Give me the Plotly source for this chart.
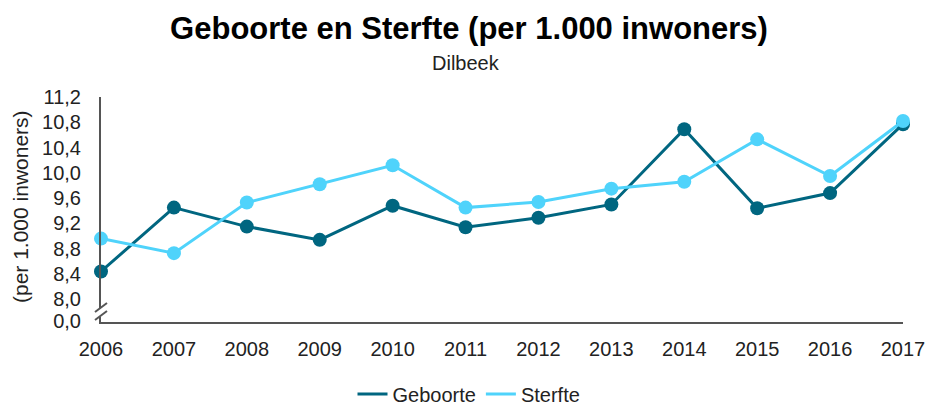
import plotly.graph_objects as go

years = [2006, 2007, 2008, 2009, 2010, 2011, 2012, 2013, 2014, 2015, 2016, 2017]
geboorte = [8.44, 9.45, 9.15, 8.94, 9.48, 9.14, 9.29, 9.50, 10.69, 9.44, 9.68, 10.77]
sterfte = [8.96, 8.73, 9.53, 9.82, 10.12, 9.45, 9.54, 9.75, 9.86, 10.53, 9.95, 10.82]
y_ticks = [8.0, 8.4, 8.8, 9.2, 9.6, 10.0, 10.4, 10.8, 11.2]
y_break_ticks = [0.0]

C_GEB = "#006680"
C_STE = "#4fd3fb"
FONT = "Liberation Sans, Arial, sans-serif"
TXT = "#222222"
AX = "#555555"

W, H = 927, 405
L, R, T, B = 101, 24, 97, 83
PW = W - L - R
PH = H - T - B


def px(xp):
    return (xp - L) / PW


def py(yp):
    return (H - B - yp) / PH


fig = go.Figure()
fig.add_trace(go.Scatter(x=years, y=geboorte, mode="lines+markers", name="Geboorte",
                         line=dict(color=C_GEB, width=3), marker=dict(size=14, color=C_GEB),
                         cliponaxis=False, showlegend=False))
fig.add_trace(go.Scatter(x=years, y=sterfte, mode="lines+markers", name="Sterfte",
                         line=dict(color=C_STE, width=3), marker=dict(size=14, color=C_STE),
                         cliponaxis=False, showlegend=False))
# legend-only entries (line only)
fig.add_trace(go.Scatter(x=[None], y=[None], mode="lines", name="Geboorte",
                         line=dict(color=C_GEB, width=3)))
fig.add_trace(go.Scatter(x=[None], y=[None], mode="lines", name="Sterfte",
                         line=dict(color=C_STE, width=3)))
# empty trace so the lower (broken-axis) subplot exists
fig.add_trace(go.Scatter(x=[None], y=[None], xaxis="x", yaxis="y2", mode="lines",
                         showlegend=False, hoverinfo="skip"))

# y2 range with 0 at the very bottom pixel row
y2_range = [-0.2, 1]

fig.update_layout(
    width=W, height=H,
    margin=dict(l=L, r=R, t=T, b=B, autoexpand=False),
    paper_bgcolor="white", plot_bgcolor="white",
    separators=",.",
    font=dict(family=FONT, size=20, color=TXT),
    title=dict(text="<b>Geboorte en Sterfte (per 1.000 inwoners)</b>",
               x=469 / W, xanchor="center", y=1 - 28 / H, yanchor="middle",
               font=dict(family=FONT, size=31, color="#000000")),
    xaxis=dict(range=[years[0], years[-1]], tickvals=years, anchor="y2", automargin=False,
               showline=True, linecolor=AX, linewidth=2, showgrid=False, zeroline=False,
               ticks="outside", ticklen=8, tickcolor="rgba(0,0,0,0)",
               tickfont=dict(size=20, color=TXT)),
    yaxis=dict(domain=[py(308), 1], range=[7.862, 11.2], tickvals=y_ticks, tickformat=".1f",
               anchor="x", automargin=False, showline=True, linecolor=AX, linewidth=2,
               showgrid=False, zeroline=False, ticks="outside", ticklen=14,
               tickcolor="rgba(0,0,0,0)", tickfont=dict(size=20, color=TXT)),
    yaxis2=dict(domain=[0, py(317)], range=y2_range, tickvals=y_break_ticks, tickformat=".1f",
                anchor="x", automargin=False, showline=True, linecolor=AX, linewidth=2,
                showgrid=False, zeroline=False, ticks="outside", ticklen=14,
                tickcolor="rgba(0,0,0,0)", tickfont=dict(size=20, color=TXT)),
    legend=dict(orientation="h", xref="container", yref="container",
                x=469 / W, xanchor="center", y=1 - 394 / H, yanchor="middle",
                font=dict(size=20, color=TXT)),
    showlegend=True,
)

# subtitle
fig.add_annotation(text="Dilbeek", x=px(466), y=py(63), xref="paper", yref="paper",
                   showarrow=False, font=dict(size=20, color=TXT), xanchor="center", yanchor="middle")
# y-axis title
fig.add_annotation(text="(per 1.000 inwoners)", x=px(20), y=py(207), xref="paper", yref="paper",
                   showarrow=False, textangle=-90, font=dict(size=21, color=TXT),
                   xanchor="center", yanchor="middle")

# axis break marks
for (x0, y0, x1, y1) in [(95, 312, 107, 303), (95, 320, 107, 311)]:
    fig.add_shape(type="line", xref="paper", yref="paper",
                  x0=px(x0), y0=py(y0), x1=px(x1), y1=py(y1),
                  line=dict(color=AX, width=2))

fig.write_html("out.html", config={"displayModeBar": False},
               post_script="document.body.style.margin='0';")
